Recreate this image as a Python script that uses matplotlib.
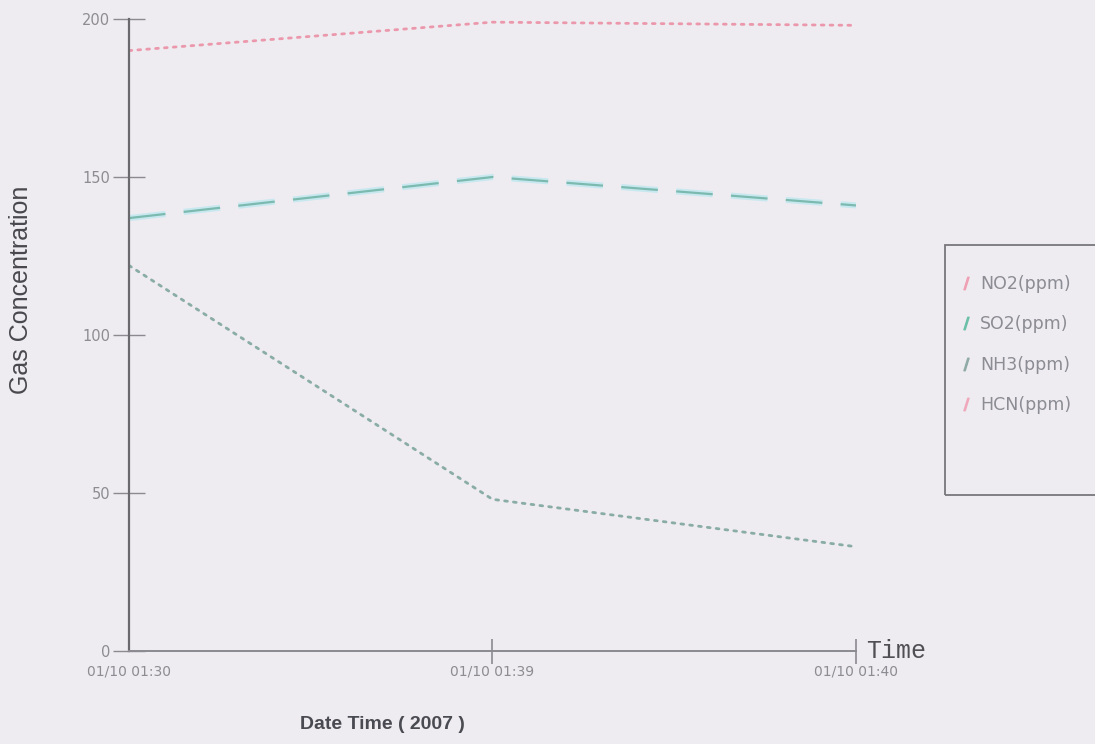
import matplotlib
matplotlib.use("Agg")
import matplotlib.pyplot as plt
from matplotlib.lines import Line2D
from matplotlib.patches import Rectangle

# Sampling times and measured gas concentrations (ppm)
times = ["01/10 01:30", "01/10 01:39", "01/10 01:40"]
no2 = [190, 199, 198]
so2 = [137, 150, 141]
nh3 = [122, 48, 33]
series_names = ["NO2(ppm)", "SO2(ppm)", "NH3(ppm)", "HCN(ppm)"]
y_ticks = [0, 50, 100, 150, 200]

bg = "#eeecf0"
fig = plt.figure(figsize=(10.95, 7.44), dpi=100, facecolor=bg)
ax = fig.add_axes([129 / 1095, 1 - 651 / 744, (856 - 129) / 1095, (651 - 19) / 744])
ax.set_facecolor("none")

x = list(range(len(times)))

ax.plot(x, no2, color="#ec98ac", lw=2.0, linestyle=(0, (1, 2.2)), dash_capstyle="round")
ax.plot(x, so2, color="#c8e8f0", lw=4.4, linestyle=(0, (6, 3)))
ax.plot(x, so2, color="#7cbab0", lw=1.6, linestyle=(0, (16.5, 8.25)))
ax.plot(x, nh3, color="#8aaca6", lw=2.0, linestyle=(0, (1, 2.2)), dash_capstyle="round")

ax.set_xlim(0, 2)
ax.set_ylim(0, 200)

for s in ["top", "right"]:
    ax.spines[s].set_visible(False)
ax.spines["left"].set_color("#6a6a6e")
ax.spines["left"].set_linewidth(1.6)
ax.spines["bottom"].set_color("#8a8a90")
ax.spines["bottom"].set_linewidth(1.4)

ax.set_yticks(y_ticks)
ax.set_yticklabels([str(v) for v in y_ticks])
ax.tick_params(axis="y", direction="inout", length=23, width=1.0, colors="#8a8a90",
               labelsize=10.5, pad=2, labelcolor="#8c8c92")
ax.set_xticks(x)
ax.set_xticklabels(times)
ax.tick_params(axis="x", direction="inout", length=18, width=1.2, colors="#8a8a90",
               labelsize=10, pad=1, labelcolor="#8c8c92")
ax.xaxis.get_major_ticks()[0].tick1line.set_visible(False)

ax.set_ylabel("Gas Concentration", fontsize=18,
              family=["Liberation Sans Narrow", "Liberation Sans"], color="#48484e")
ax.yaxis.set_label_coords(-0.132, 0.571)
ax.set_xlabel("Date Time ( 2007 )", fontsize=14, fontweight="bold",
              family="Liberation Sans", color="#4a4a52")
ax.xaxis.set_label_coords(0.348, -0.103)

ax.annotate("Time", xy=(2, 0), xytext=(7, 0), textcoords="offset points",
            ha="left", va="center", fontsize=18, family="Liberation Mono",
            color="#505054", annotation_clip=False)

# Legend panel
fig.patches.append(Rectangle((945 / 1095, 1 - 495 / 744), 0.2, (495 - 245) / 744,
                             transform=fig.transFigure, facecolor="none",
                             edgecolor="#77777c", linewidth=1.3))
legend_colors = ["#f0a0b4", "#6cc0a8", "#90aaa8", "#f0a8bc"]
handles = [Line2D([], [], linestyle="none", marker=r"$/$", markersize=9,
                  color=c) for c in legend_colors]
leg = ax.legend(handles, series_names, loc="upper left",
                bbox_to_anchor=(943 / 1095, 1 - 259 / 744),
                bbox_transform=fig.transFigure, frameon=False,
                handlelength=0.8, handletextpad=0.45, labelspacing=1.3,
                prop={"family": "DejaVu Sans", "size": 12.5})
for t in leg.get_texts():
    t.set_color("#8c8c94")

fig.savefig("out.png", dpi=100, facecolor=bg)
